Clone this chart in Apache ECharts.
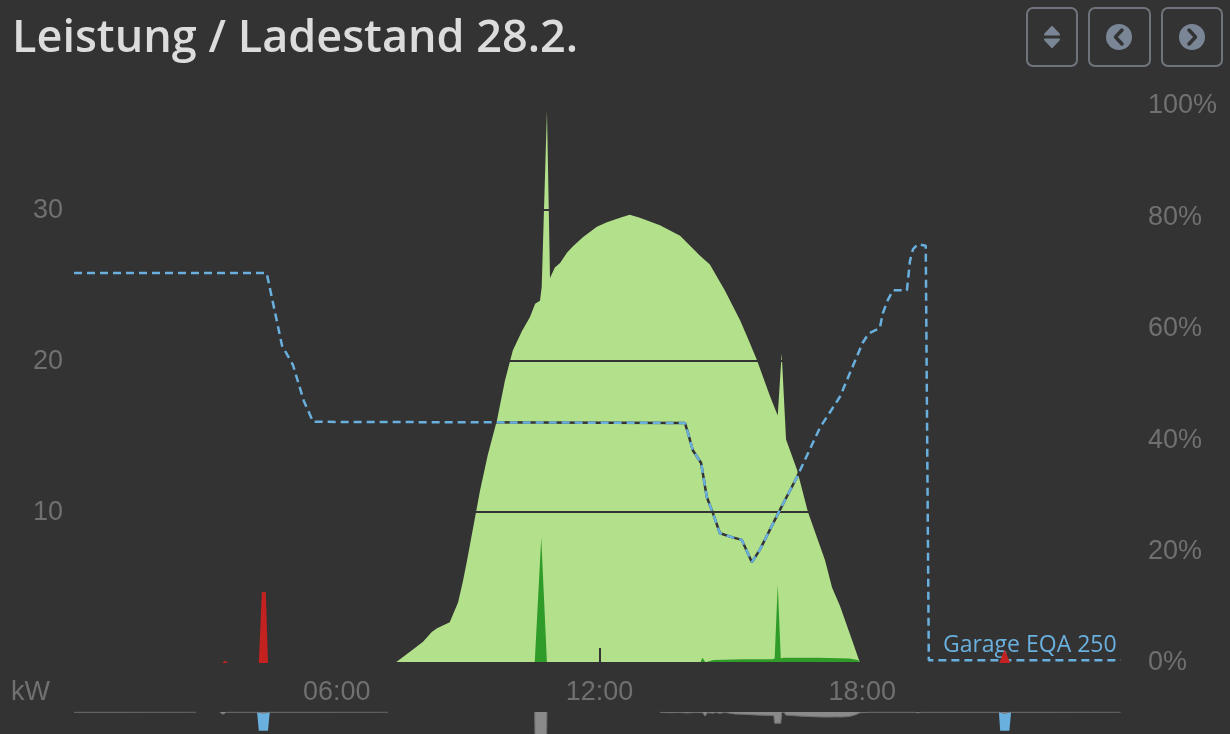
<!DOCTYPE html>
<html>
<head>
<meta charset="utf-8">
<script src="https://cdn.jsdelivr.net/npm/echarts@6/dist/echarts.min.js"></script>
<style>
html,body{margin:0;padding:0;background:#333333;}
#chart{width:1230px;height:734px;}
</style>
</head>
<body>
<div id="chart"></div>
<script>
// ---- data (hours of day, values) ----
const titleText = 'Leistung / Ladestand 28.2.';
const xTickHours = [6, 12, 18];
const xTickLabels = ['06:00', '12:00', '18:00'];
const kwTicks = [10, 20, 30];
const socSeriesName = 'Garage EQA 250';

// PV production (kW)
const pvPower = [
  [7.33,0],[7.74,0.9],[7.97,1.4],[8.17,2.05],[8.29,2.3],[8.58,2.7],[8.77,4.0],[8.88,5.4],
  [8.97,6.7],[9.04,7.8],[9.27,11.4],[9.45,13.8],[9.66,16.1],[9.84,18.7],[10.02,20.7],
  [10.23,22.0],[10.41,22.9],[10.53,23.8],[10.64,24.0],[10.68,24.9],[10.80,36.6],[10.87,25.5],
  [10.98,26.2],[11.10,26.5],[11.26,27.2],[11.39,27.6],[11.62,28.2],[11.94,28.9],[12.17,29.2],
  [12.47,29.5],[12.69,29.7],[12.92,29.5],[13.38,29.0],[13.84,28.3],[14.29,27.0],[14.52,26.4],
  [14.86,24.7],[15.21,22.7],[15.39,21.5],[15.59,20.1],[15.89,17.7],[16.07,16.4],[16.16,20.5],
  [16.26,14.8],[16.51,12.8],[16.76,10.0],[17.15,6.8],[17.31,5.0],[17.49,3.8],[17.72,1.9],[17.95,0]
];
// dark green (kW)
const greenPower = [
  [10.52,0],[10.67,8.3],[10.80,0],[14.30,0],[14.35,0.35],[14.42,0.05],[14.60,0.2],[15.30,0.25],
  [15.95,0.25],[16.00,0.3],[16.07,5.2],[16.14,0.3],[16.20,0.35],[17.00,0.35],[17.70,0.3],
  [17.90,0.2],[17.97,0]
];
// red (kW)
const redPower = [
  [3.38,0],[3.45,0.15],[3.52,0],[4.22,0],[4.29,4.7],[4.38,4.7],[4.43,0],
  [21.13,0],[21.25,0.9],[21.38,0]
];
// state of charge (%)
const socPercent = [
  [0,70],[4.4,70],[4.75,57],[5.0,53.5],[5.25,47],[5.46,43.3],[13.95,43.1],[14.02,41.3],
  [14.13,38.2],[14.32,35.9],[14.45,29.8],[14.59,26.9],[14.75,23.3],[15.02,22.6],[15.25,22.1],
  [15.48,18.1],[15.66,20.3],[15.89,23.9],[16.12,27.5],[16.51,33.4],[17.03,42.2],[17.49,47.8],
  [18.01,57.5],[18.15,59.2],[18.40,60.1],[18.47,62.8],[18.58,65.1],[18.70,66.9],[19.02,66.9],
  [19.09,72.2],[19.16,74.3],[19.27,75.2],[19.45,74.9],[19.52,0.5],[23.9,0.5]
];
// lower chart (negative kW)
const greyLower = [
  [0,-0.05],[2.79,-0.05],[2.8,'-'],[3.33,-0.05],[3.40,-0.6],[3.48,-0.05],[4.20,-0.05],[4.32,-0.3],
  [4.44,-0.05],[7.17,-0.05],[7.2,'-'],
  [10.52,0],[10.53,-8.3],[10.79,-8.3],[10.80,0],[10.82,'-'],
  [13.38,-0.05],[13.6,-0.2],[13.8,-0.1],[14.0,-0.25],[14.2,-0.1],[14.36,-0.2],[14.41,-1.1],
  [14.46,-0.2],[14.6,-0.3],[14.65,-0.1],[14.75,-0.35],[14.86,-0.1],[14.9,-0.45],[15.1,-0.55],
  [15.3,-0.6],[15.5,-0.75],[15.7,-0.85],[15.9,-0.9],[15.98,-0.95],[16.0,-3],[16.14,-3],
  [16.16,-0.1],[16.22,-0.1],[16.25,-0.8],[16.4,-0.95],[16.6,-1.1],[16.8,-1.2],[17.0,-1.3],
  [17.2,-1.35],[17.4,-1.3],[17.5,-1.35],[17.7,-1.2],[17.83,-0.8],[17.95,-0.2],[18.17,-0.05],
  [19.2,-0.05],[19.27,-0.25],[19.34,-0.05],[21.15,-0.05],[21.25,-0.4],[21.35,-0.05],[23.9,-0.05]
];
const blueLower = [
  [4.18,0],[4.22,-5],[4.43,-5],[4.47,0],[4.5,'-'],
  [21.12,0],[21.15,-5],[21.36,-5],[21.4,0]
];

const BG = '#333333';
const AXIS_TXT = '#707070';
const chart = echarts.init(document.getElementById('chart'), null, {renderer:'canvas'});

const socData = socPercent.map((p, i) => i === socPercent.length - 1 ? {
  value: p,
  label: {show: true, formatter: socSeriesName, position: 'top', align: 'right',
          distance: 3, offset: [-4, 0], color: '#6ab0de', fontSize: 23, fontFamily: 'Open Sans'}
} : p);

const option = {
  backgroundColor: BG,
  animation: false,
  title: {
    text: titleText, left: 7, top: 12,
    textStyle: {color: '#dcdcdc', fontSize: 45, fontWeight: 600, fontFamily: 'Open Sans'}
  },
  grid: [
    {left: 74, right: 105, top: 106, bottom: 71},
    {left: 74, right: 105, top: 712, height: 150}
  ],
  xAxis: [
    {type: 'value', gridIndex: 0, min: 0, max: 24, interval: 6, z: 3,
     axisLine: {show: false},
     axisTick: {show: true, inside: true, length: 15, lineStyle: {color: BG, width: 2}},
     splitLine: {show: false},
     axisLabel: {margin: 16, color: AXIS_TXT, fontSize: 27, fontFamily: 'Liberation Sans',
       formatter: v => { const i = xTickHours.indexOf(v); return i >= 0 ? xTickLabels[i] : ''; }}},
    {type: 'value', gridIndex: 1, min: 0, max: 24, show: false}
  ],
  yAxis: [
    {type: 'value', gridIndex: 0, min: 0, max: 36.9, interval: 10, z: 3,
     name: 'kW', nameLocation: 'start', nameGap: 16,
     nameTextStyle: {color: AXIS_TXT, fontSize: 27, fontFamily: 'Liberation Sans', align: 'right', padding: [0, 24, 0, 0]},
     axisLine: {show: false}, axisTick: {show: false},
     splitLine: {show: true, lineStyle: {color: BG, width: 2}},
     axisLabel: {margin: 11, color: AXIS_TXT, fontSize: 27, fontFamily: 'Liberation Sans',
       formatter: v => kwTicks.indexOf(v) >= 0 ? String(v) : ''}},
    {type: 'value', gridIndex: 0, min: 0, max: 100, interval: 20, position: 'right',
     axisLine: {show: false}, axisTick: {show: false}, splitLine: {show: false},
     axisLabel: {margin: 23, color: AXIS_TXT, fontSize: 27, fontFamily: 'Liberation Sans', formatter: '{value}%'}},
    {type: 'value', gridIndex: 1, min: -10, max: 0, show: false}
  ],
  series: [
    {type: 'line', name: 'PV', xAxisIndex: 0, yAxisIndex: 0, data: pvPower, showSymbol: false,
     lineStyle: {width: 0}, areaStyle: {color: '#b3e08b', opacity: 1}, z: 1},
    {type: 'line', name: 'green', xAxisIndex: 0, yAxisIndex: 0, data: greenPower, showSymbol: false,
     lineStyle: {width: 0}, areaStyle: {color: '#2f9c29', opacity: 1}, z: 2},
    {type: 'line', name: 'socShadow', xAxisIndex: 0, yAxisIndex: 1, data: socPercent, showSymbol: false,
     lineStyle: {width: 2.5, color: BG}, z: 4, silent: true},
    {type: 'line', name: socSeriesName, xAxisIndex: 0, yAxisIndex: 1, data: socData,
     showSymbol: true, symbol: 'circle', symbolSize: 0, itemStyle: {color: '#6ab0de'},
     lineStyle: {width: 2.5, color: '#6ab0de', type: [8, 5]}, z: 5},
    {type: 'line', name: 'red', xAxisIndex: 0, yAxisIndex: 0, data: redPower, showSymbol: false,
     lineStyle: {width: 0}, areaStyle: {color: '#c42121', opacity: 1}, z: 6},
    {type: 'line', name: 'blueLow', xAxisIndex: 1, yAxisIndex: 2, data: blueLower, showSymbol: false,
     lineStyle: {width: 0}, areaStyle: {color: '#6ab0de', opacity: 1}, z: 2},
    {type: 'line', name: 'greyLow', xAxisIndex: 1, yAxisIndex: 2, data: greyLower, showSymbol: false,
     lineStyle: {width: 1, color: '#707070'}, areaStyle: {color: '#8a8a8a', opacity: 1}, z: 3}
  ],
  graphic: [
    {type: 'rect', shape: {x: 1027, y: 8, width: 50, height: 58, r: 6},
     style: {fill: 'transparent', stroke: '#6f747c', lineWidth: 2}},
    {type: 'polygon', shape: {points: [[1052, 27], [1059, 34.5], [1045, 34.5]]},
     style: {fill: '#7a8696', stroke: '#7a8696', lineWidth: 2, lineJoin: 'round'}},
    {type: 'polygon', shape: {points: [[1045, 39.5], [1059, 39.5], [1052, 47]]},
     style: {fill: '#7a8696', stroke: '#7a8696', lineWidth: 2, lineJoin: 'round'}},
    {type: 'rect', shape: {x: 1089, y: 8, width: 61, height: 58, r: 6},
     style: {fill: 'transparent', stroke: '#6f747c', lineWidth: 2}},
    {type: 'circle', shape: {cx: 1119, cy: 37, r: 13}, style: {fill: '#7a8696'}},
    {type: 'polyline', shape: {points: [[1122, 30], [1115.5, 37], [1122, 44]]},
     style: {stroke: BG, lineWidth: 3.5, fill: null, lineCap: 'round', lineJoin: 'round'}},
    {type: 'rect', shape: {x: 1162, y: 8, width: 60, height: 58, r: 6},
     style: {fill: 'transparent', stroke: '#6f747c', lineWidth: 2}},
    {type: 'circle', shape: {cx: 1192, cy: 37, r: 13}, style: {fill: '#7a8696'}},
    {type: 'polyline', shape: {points: [[1189, 30], [1195.5, 37], [1189, 44]]},
     style: {stroke: BG, lineWidth: 3.5, fill: null, lineCap: 'round', lineJoin: 'round'}}
  ]
};
chart.setOption(option);
</script>
</body>
</html>
